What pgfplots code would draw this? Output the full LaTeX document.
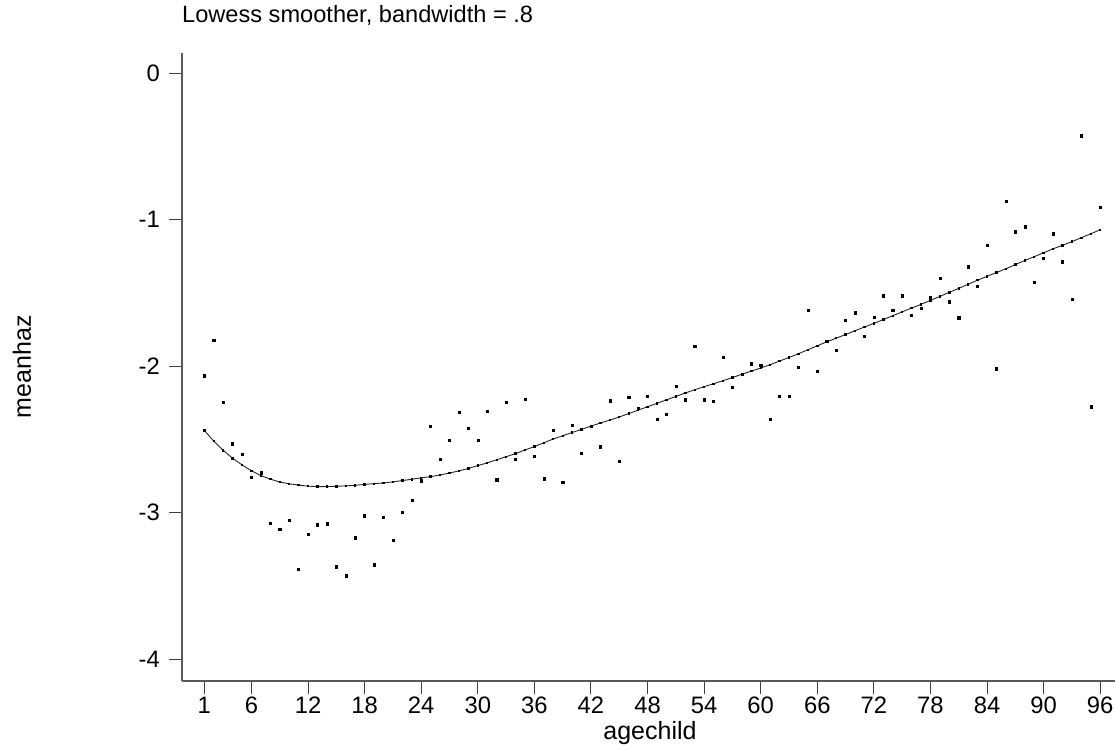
\documentclass[border=0pt]{standalone}
\usepackage{fontspec}
\setmainfont{Liberation Sans}
\usepackage{pgfplots}
\pgfplotsset{compat=1.18}

\begin{document}
\begin{tikzpicture}[x=1pt,y=1pt]
\useasboundingbox (0,0) rectangle (1115,748);
\begin{axis}[
	at={(182pt,67pt)},
	anchor=south west,
	scale only axis,
	width=933pt,
	height=628.3pt,
	xmin=-1.365, xmax=97.57,
	ymin=-4.150, ymax=0.1386,
	axis x line*=bottom,
	axis y line*=left,
	axis line style={black!65, line width=1.4pt},
	xtick={1,6,12,18,24,30,36,42,48,54,60,66,72,78,84,90,96},
	ytick={-4,-3,-2,-1,0},
	tick align=outside,
	major tick length=13pt,
	tick style={black!75, line width=1pt},
	/pgf/number format/assume math mode=true,
	tick label style={font=\fontsize{23.8}{28}\selectfont},
	xticklabel style={anchor=north, inner sep=0pt, yshift=-3pt},
	yticklabel style={anchor=east, inner sep=0pt, xshift=-9pt},
	label style={font=\fontsize{25}{29}\selectfont},
	xlabel={agechild},
	xlabel style={at={(axis description cs:0.5016,0)}, anchor=base, inner sep=0pt, yshift=-58pt},
	ylabel={meanhaz},
	ylabel style={at={(axis description cs:-0.1715,0.5)}, anchor=center, inner sep=0pt},
	title={Lowess smoother, bandwidth = .8},
	title style={at={(rel axis cs:0,1)}, anchor=base west, inner sep=0pt, yshift=24.4pt, font=\fontsize{23.6}{28}\selectfont},
	clip=false,
]
% data points
\addplot[only marks, mark=square*, mark size=1.05pt, black] coordinates {
(1,-2.066) (2,-1.822) (3,-2.246) (4,-2.530) (5,-2.601) (6,-2.760) (7,-2.728) (8,-3.070)
(9,-3.111) (10,-3.051) (11,-3.384) (12,-3.145) (13,-3.083) (14,-3.076) (15,-3.370) (16,-3.431)
(17,-3.172) (18,-3.022) (19,-3.356) (20,-3.029) (21,-3.188) (22,-2.997) (23,-2.913) (24,-2.783)
(25,-2.410) (26,-2.635) (27,-2.505) (28,-2.314) (29,-2.423) (30,-2.505) (31,-2.307) (32,-2.776)
(33,-2.246) (34,-2.635) (35,-2.225) (36,-2.614) (37,-2.769) (38,-2.437) (39,-2.792) (40,-2.403)
(41,-2.594) (42,-2.410) (43,-2.551) (44,-2.237) (45,-2.648) (46,-2.212) (47,-2.287) (48,-2.205)
(49,-2.360) (50,-2.326) (51,-2.137) (52,-2.230) (53,-1.863) (54,-2.230) (55,-2.243) (56,-1.939)
(57,-2.143) (58,-2.055) (59,-1.984) (60,-1.993) (61,-2.362) (62,-2.209) (63,-2.209) (64,-2.007)
(65,-1.618) (66,-2.034) (67,-1.829) (68,-1.889) (69,-1.686) (70,-1.636) (71,-1.795) (72,-1.666)
(73,-1.520) (74,-1.622) (75,-1.520) (76,-1.652) (77,-1.604) (78,-1.529) (79,-1.401) (80,-1.561)
(81,-1.670) (82,-1.322) (83,-1.458) (84,-1.174) (85,-2.018) (86,-0.878) (87,-1.083) (88,-1.049)
(89,-1.425) (90,-1.261) (91,-1.097) (92,-1.288) (93,-1.541) (94,-0.428) (95,-2.278) (96,-0.919)
};
% lowess fit
\addplot[black!85, line width=0.9pt, mark=square*, mark size=0.7pt, mark options={black}] coordinates {
(1,-2.440) (2,-2.512) (3,-2.575) (4,-2.630) (5,-2.675) (6,-2.715) (7,-2.748) (8,-2.772)
(9,-2.792) (10,-2.804) (11,-2.813) (12,-2.820) (13,-2.823) (14,-2.823) (15,-2.821) (16,-2.818)
(17,-2.814) (18,-2.808) (19,-2.803) (20,-2.798) (21,-2.791) (22,-2.782) (23,-2.773) (24,-2.763)
(25,-2.755) (26,-2.744) (27,-2.730) (28,-2.716) (29,-2.699) (30,-2.680) (31,-2.661) (32,-2.640)
(33,-2.619) (34,-2.598) (35,-2.573) (36,-2.550) (37,-2.524) (38,-2.498) (39,-2.476) (40,-2.454)
(41,-2.433) (42,-2.410) (43,-2.389) (44,-2.369) (45,-2.348) (46,-2.325) (47,-2.301) (48,-2.278)
(49,-2.255) (50,-2.231) (51,-2.208) (52,-2.184) (53,-2.162) (54,-2.141) (55,-2.121) (56,-2.100)
(57,-2.079) (58,-2.056) (59,-2.035) (60,-2.014) (61,-1.991) (62,-1.966) (63,-1.942) (64,-1.916)
(65,-1.889) (66,-1.862) (67,-1.835) (68,-1.810) (69,-1.785) (70,-1.759) (71,-1.734) (72,-1.709)
(73,-1.683) (74,-1.657) (75,-1.630) (76,-1.604) (77,-1.579) (78,-1.552) (79,-1.525) (80,-1.497)
(81,-1.470) (82,-1.442) (83,-1.414) (84,-1.388) (85,-1.362) (86,-1.336) (87,-1.308) (88,-1.280)
(89,-1.254) (90,-1.227) (91,-1.200) (92,-1.176) (93,-1.151) (94,-1.124) (95,-1.097) (96,-1.070)
};
\end{axis}
\end{tikzpicture}
\end{document}
